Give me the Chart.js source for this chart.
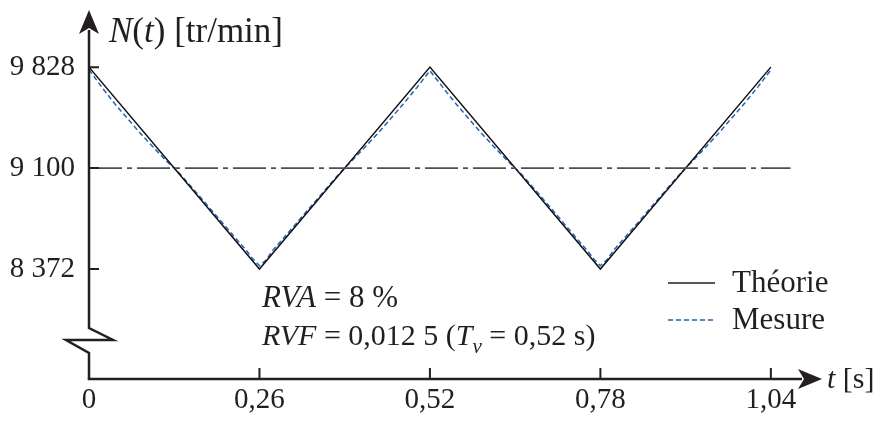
<!DOCTYPE html>
<html>
<head>
<meta charset="utf-8">
<script src="https://cdn.jsdelivr.net/npm/chart.js@4.4.1/dist/chart.umd.min.js"></script>
<style>
    html, body { margin: 0; padding: 0; background: #ffffff; }
    #chart { display: block; }
</style>
</head>
<body>
<canvas id="chart" width="882" height="421"></canvas>
<script>
// Données
const theoryT = [0, 0.26, 0.52, 0.78, 1.04];
const theoryN = [9828, 8372, 9828, 8372, 9828];

const measureT = [0, 0.02, 0.04, 0.06, 0.08, 0.10, 0.12, 0.13, 0.14, 0.16, 0.18, 0.20, 0.22, 0.24, 0.25, 0.26,
    0.27, 0.28, 0.30, 0.32, 0.34, 0.36, 0.38, 0.39, 0.40, 0.42, 0.44, 0.46, 0.48, 0.50, 0.52,
    0.54, 0.56, 0.58, 0.60, 0.62, 0.64, 0.65, 0.66, 0.68, 0.70, 0.72, 0.74, 0.76, 0.77, 0.78,
    0.79, 0.80, 0.82, 0.84, 0.86, 0.88, 0.90, 0.91, 0.92, 0.94, 0.96, 0.98, 1.00, 1.02, 1.04];
const measureN = [9810, 9680, 9560, 9450, 9342, 9240, 9142, 9100, 9052, 8944, 8834, 8724, 8614, 8505, 8445, 8396,
    8436, 8505, 8614, 8722, 8832, 8942, 9050, 9100, 9148, 9246, 9348, 9456, 9566, 9680, 9802,
    9680, 9562, 9452, 9344, 9242, 9144, 9100, 9054, 8946, 8836, 8726, 8614, 8505, 8445, 8396,
    8438, 8506, 8614, 8722, 8832, 8942, 9050, 9100, 9148, 9248, 9350, 9458, 9568, 9684, 9808];

const meanT = [0, 1.07];
const meanN = [9100, 9100];

const xTicks = [0, 0.26, 0.52, 0.78, 1.04];
const xTickLabels = ['0', '0,26', '0,52', '0,78', '1,04'];
const yTicks = [8372, 9100, 9828];
const yTickLabels = ['8 372', '9 100', '9 828'];

const legendLabels = ['Théorie', 'Mesure'];

const INK = '#231f20';
const BLUE = '#2563b0';
const FONT = '"Liberation Serif", "Times New Roman", serif';

function pts(xs, ys) {
    return xs.map((x, i) => ({ x: x, y: ys[i] }));
}

// dessine un texte en plusieurs morceaux (romain / italique / indice)
function drawRuns(ctx, runs, x, y, size) {
    runs.forEach(r => {
        const s = r.sub ? Math.round(size * 0.7) : size;
        ctx.font = (r.it ? 'italic ' : '') + s + 'px ' + FONT;
        ctx.fillText(r.t, x, y + (r.sub ? size * 0.25 : 0));
        x += ctx.measureText(r.t).width;
    });
}

const axesPlugin = {
    id: 'axesPlugin',
    afterDatasetsDraw(chart) {
        const ctx = chart.ctx;
        const xs = chart.scales.x;
        const ys = chart.scales.y;
        const ca = chart.chartArea;
        const x0 = xs.getPixelForValue(0);
        const yb = ca.bottom;

        ctx.save();
        ctx.strokeStyle = INK;
        ctx.fillStyle = INK;
        ctx.lineWidth = 2.5;
        ctx.lineJoin = 'miter';

        // axe vertical avec coupure
        ctx.beginPath();
        ctx.moveTo(x0, yb);
        ctx.lineTo(x0, yb - 26);
        ctx.lineTo(x0 - 23, yb - 39);
        ctx.lineTo(x0 + 24, yb - 39);
        ctx.lineTo(x0, yb - 51);
        ctx.lineTo(x0, ca.top + 20);
        ctx.stroke();

        // axe horizontal
        ctx.beginPath();
        ctx.moveTo(x0 - 1.25, yb);
        ctx.lineTo(ca.right - 20, yb);
        ctx.stroke();

        // flèches
        ctx.beginPath();
        ctx.moveTo(x0, ca.top);
        ctx.lineTo(x0 + 10, ca.top + 24);
        ctx.lineTo(x0, ca.top + 18);
        ctx.lineTo(x0 - 10, ca.top + 24);
        ctx.closePath();
        ctx.fill();

        ctx.beginPath();
        ctx.moveTo(ca.right, yb);
        ctx.lineTo(ca.right - 24, yb - 10);
        ctx.lineTo(ca.right - 18, yb);
        ctx.lineTo(ca.right - 24, yb + 10);
        ctx.closePath();
        ctx.fill();

        // graduations
        ctx.lineWidth = 2;
        ctx.beginPath();
        yTicks.forEach(v => {
            const p = ys.getPixelForValue(v);
            ctx.moveTo(x0, p);
            ctx.lineTo(x0 + 10, p);
        });
        xTicks.slice(1).forEach(v => {
            const p = xs.getPixelForValue(v);
            ctx.moveTo(p, yb);
            ctx.lineTo(p, yb - 11);
        });
        ctx.stroke();

        // titres d'axes
        ctx.textBaseline = 'alphabetic';
        ctx.textAlign = 'left';
        drawRuns(ctx, [{ t: 'N', it: true }, { t: '(' }, { t: 't', it: true }, { t: ') [tr/min]' }], x0 + 20, ca.top + 32, 35);
        drawRuns(ctx, [{ t: 't', it: true }, { t: ' [s]' }], ca.right + 5, yb + 9, 30);

        // annotations
        drawRuns(ctx, [{ t: 'RVA', it: true }, { t: ' = 8 %' }], 262, 307, 31);
        drawRuns(ctx, [{ t: 'RVF', it: true }, { t: ' = 0,012 5 (' }, { t: 'T', it: true },
            { t: 'v', it: true, sub: true }, { t: ' = 0,52 s)' }], 262, 345, 30);

        // légende
        const lx = 668, lw = 47;
        const rows = [283, 320];
        ctx.lineWidth = 1.5;
        ctx.strokeStyle = INK;
        ctx.beginPath();
        ctx.moveTo(lx, rows[0]);
        ctx.lineTo(lx + lw, rows[0]);
        ctx.stroke();
        ctx.strokeStyle = BLUE;
        ctx.setLineDash([5, 3]);
        ctx.beginPath();
        ctx.moveTo(lx, rows[1]);
        ctx.lineTo(lx + lw, rows[1]);
        ctx.stroke();
        ctx.setLineDash([]);
        ctx.textBaseline = 'middle';
        ctx.font = '31px ' + FONT;
        legendLabels.forEach((l, i) => ctx.fillText(l, lx + lw + 17, rows[i] + 1));

        ctx.restore();
    }
};

new Chart(document.getElementById('chart').getContext('2d'), {
    type: 'line',
    data: {
        datasets: [
            {
                label: 'Moyenne',
                data: pts(meanT, meanN),
                borderColor: '#505050',
                borderWidth: 1.8,
                borderDash: [33, 5, 5, 5],
                pointRadius: 0
            },
            {
                label: legendLabels[0],
                data: pts(theoryT, theoryN),
                borderColor: '#111111',
                borderWidth: 1.5,
                pointRadius: 0,
                tension: 0
            },
            {
                label: legendLabels[1],
                data: pts(measureT, measureN),
                borderColor: BLUE,
                borderWidth: 1.5,
                borderDash: [5, 3],
                pointRadius: 0,
                tension: 0
            }
        ]
    },
    options: {
        responsive: false,
        animation: false,
        devicePixelRatio: 1,
        layout: { padding: { top: 10, right: 60, bottom: 0, left: 10 } },
        plugins: {
            legend: { display: false },
            tooltip: { enabled: false }
        },
        scales: {
            x: {
                type: 'linear',
                min: 0,
                max: 1.118,
                afterFit: s => { s.height = 42; s.paddingLeft = 0; s.paddingRight = 0; },
                afterBuildTicks: s => { s.ticks = xTicks.map(v => ({ value: v })); },
                grid: { display: false, drawTicks: false },
                border: { display: false },
                ticks: {
                    padding: 4,
                    color: INK,
                    font: { family: FONT, size: 29 },
                    maxRotation: 0,
                    autoSkip: false,
                    callback: (v) => xTickLabels[xTicks.indexOf(v)]
                }
            },
            y: {
                type: 'linear',
                min: 7579,
                max: 10240,
                afterFit: s => { s.width = 79; s.paddingTop = 0; s.paddingBottom = 0; },
                afterBuildTicks: s => { s.ticks = yTicks.map(v => ({ value: v })); },
                grid: { display: false, drawTicks: false },
                border: { display: false },
                ticks: {
                    padding: 14,
                    color: INK,
                    font: { family: FONT, size: 29 },
                    autoSkip: false,
                    callback: (v) => yTickLabels[yTicks.indexOf(v)]
                }
            }
        }
    },
    plugins: [axesPlugin]
});
</script>
</body>
</html>
